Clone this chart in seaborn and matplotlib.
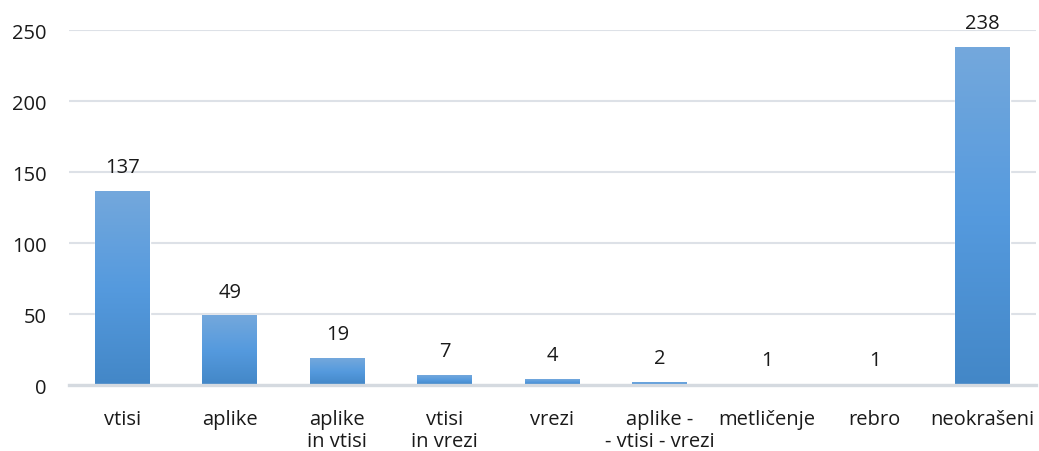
import numpy as np
import pandas as pd
import matplotlib
matplotlib.use("Agg")
import matplotlib.pyplot as plt
from matplotlib.colors import LinearSegmentedColormap
import seaborn as sns

categories = ["vtisi", "aplike", "aplike\nin vtisi", "vtisi\nin vrezi", "vrezi",
              "aplike -\n- vtisi - vrezi", "metličenje", "rebro", "neokrašeni"]
counts = [137, 49, 19, 7, 4, 2, 1, 1, 238]
y_ticks = [0, 50, 100, 150, 200, 250]

sns.set_theme(style="white")
plt.rcParams["font.family"] = ["Open Sans", "DejaVu Sans"]

df = pd.DataFrame({"kategorija": categories, "stevilo": counts})

fig = plt.figure(figsize=(10.39, 4.52), dpi=100)
ax = fig.add_axes([0.066, 0.146, 0.931, 0.785])

sns.barplot(data=df, x="kategorija", y="stevilo", color="#5b9bd5",
            width=0.51, ax=ax, zorder=3)

# vertical gradient fill for each bar, clipped to the bar rectangle
grad = LinearSegmentedColormap.from_list("bar", ["#4387c7", "#559ade", "#74a8dc"])
for patch in ax.patches:
    x0, y0 = patch.get_x(), patch.get_y()
    w, h = patch.get_width(), patch.get_height()
    if h <= 0:
        continue
    img = ax.imshow(np.linspace(0, 1, 256).reshape(-1, 1), cmap=grad,
                    origin="lower", aspect="auto",
                    extent=[x0, x0 + w, y0, y0 + h], zorder=4)
    img.set_clip_path(patch)
    patch.set_facecolor("none")

ax.set_xlim(-0.5, len(categories) - 0.5)
ax.set_ylim(0, 250)
ax.set_yticks(y_ticks)
ax.set_xlabel("")
ax.set_ylabel("")

ax.grid(axis="y", color="#dde1e7", linewidth=1.5, zorder=0)
ax.set_axisbelow(True)
for side in ["left", "right", "top"]:
    ax.spines[side].set_visible(False)
ax.spines["bottom"].set_color("#d5dae0")
ax.spines["bottom"].set_linewidth(2.4)
ax.spines["bottom"].set_zorder(5)

ax.tick_params(axis="both", length=0, labelsize=14.5, colors="#1a1a1a")
ax.tick_params(axis="x", pad=17)
ax.tick_params(axis="y", pad=16)
for lbl in ax.get_xticklabels():
    lbl.set_horizontalalignment("center")
    lbl.set_multialignment("center")
    lbl.set_linespacing(1.15)

for i, v in enumerate(counts):
    ax.annotate(str(v), xy=(i, v), xytext=(0, 10), textcoords="offset points",
                ha="center", va="bottom", fontsize=14.5, color="#1a1a1a")

fig.savefig("out.png", dpi=100)
